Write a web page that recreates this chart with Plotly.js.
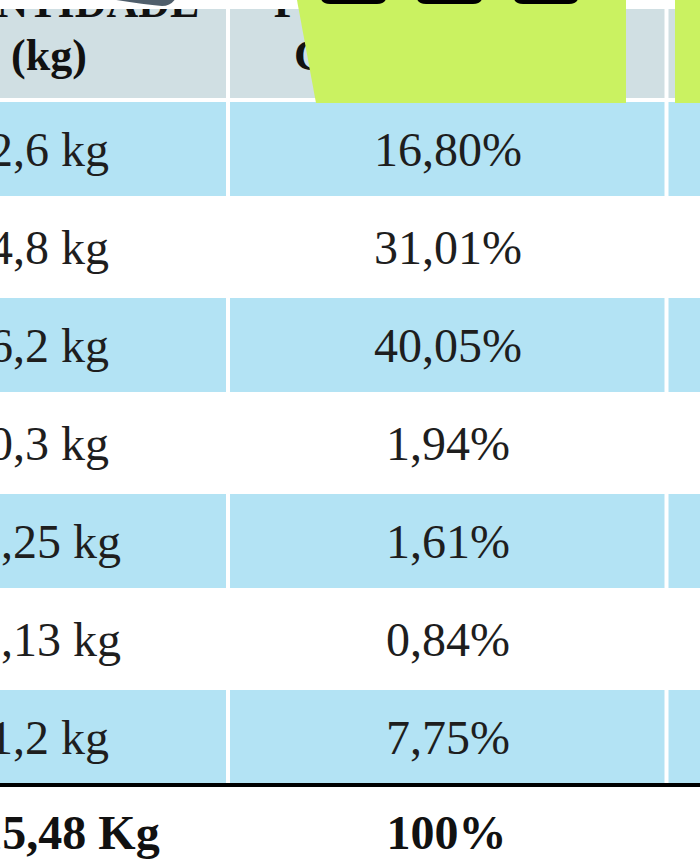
<!DOCTYPE html>
<html><head><meta charset="utf-8">
<script src="https://cdn.plot.ly/plotly-3.0.1.min.js"></script>
<style>html,body{margin:0;padding:0;background:#fff;overflow:hidden}#chart{width:700px;height:863px}</style>
</head><body><div id="chart"></div>
<script>
// ---- data ----
const quantities = ['2,6 kg','4,8 kg','6,2 kg','0,3 kg','0,25 kg','0,13 kg','1,2 kg'];
const percentages = ['16,80%','31,01%','40,05%','1,94%','1,61%','0,84%','7,75%'];
const totalQuantity = '15,48 Kg';
const totalPercentage = '100%';
const headerQuantity = ['QUANTIDADE','(kg)'];
const headerPercentage = ['PORCENTAGEM','COMPOSIÇÃO'];

// ---- layout helpers ----
const W = 700, H = 863;
const ROW = 98, TOP = 100;
const rowY = p => (p - TOP) / ROW;
const colEdges = [-250, 228, 666.5, 950];
const colCenters = [49, 448];
const BLUE = '#b3e3f4', GRAY = '#d0dfe3', LIME = '#caf261';
const SERIF = 'Liberation Serif, Times New Roman, serif';
const PX = x => x / W, PY = y => 1 - y / H;
const pathPx = pts => 'M ' + pts.map(p => PX(p[0]) + ',' + PY(p[1])).join(' L ') + ' Z';

const shapes = [];
// header cells
for (let c = 0; c < 3; c++) {
  shapes.push({type:'rect', layer:'below', xref:'x', yref:'y',
    x0: colEdges[c] + 2, x1: colEdges[c+1] - 2, y0: rowY(9), y1: rowY(98),
    fillcolor: GRAY, line:{width:0}});
}
// body cells
quantities.forEach((_, i) => {
  if (i % 2 !== 0) return;
  for (let c = 0; c < 3; c++) {
    shapes.push({type:'rect', layer:'below', xref:'x', yref:'y',
      x0: colEdges[c] + 2, x1: colEdges[c+1] - 2, y0: i + 2/ROW, y1: i + 1 - 2/ROW,
      fillcolor: BLUE, line:{width:0}});
  }
});
// total separator line
shapes.push({type:'line', layer:'above', xref:'paper', yref:'y', x0:0, x1:1,
  y0: quantities.length - 1/ROW, y1: quantities.length - 1/ROW, line:{color:'#000', width:4}});
// decorations on top
shapes.push({type:'rect', layer:'above', xref:'paper', yref:'paper', x0:0, x1:1, y0:PY(9), y1:PY(-5),
  fillcolor:'#ffffff', line:{width:0}});
shapes.push({type:'path', layer:'above', xref:'paper', yref:'paper',
  path: pathPx([[295.5,-8],[316,103],[626,103],[626,-8]]), fillcolor: LIME, line:{width:0}});
shapes.push({type:'path', layer:'above', xref:'paper', yref:'paper',
  path: pathPx([[675,-8],[675,103],[710,103],[710,-8]]), fillcolor: LIME, line:{width:0}});
[[320,387],[416,483],[513,579]].forEach(([a,b]) => {
  const r = 10, yb = 4, yt = -30;
  const p = `M ${PX(a)},${PY(yt)} L ${PX(a)},${PY(yb-r)} Q ${PX(a)},${PY(yb)} ${PX(a+r)},${PY(yb)} L ${PX(b-r)},${PY(yb)} Q ${PX(b)},${PY(yb)} ${PX(b)},${PY(yb-r)} L ${PX(b)},${PY(yt)} Z`;
  shapes.push({type:'path', layer:'above', xref:'paper', yref:'paper', path:p, fillcolor:'#000', line:{width:0}});
});
shapes.push({type:'path', layer:'above', xref:'paper', yref:'paper',
  path: `M ${PX(104)},${PY(-2)} Q ${PX(140)},${PY(4)} ${PX(162)},${PY(6)} Q ${PX(171)},${PY(6)} ${PX(176)},${PY(-2)} Z`,
  fillcolor:'#4f5e6b', line:{width:0}});

const txtColor = '#1e1e1e';
const traces = [
  {type:'scatter', mode:'text', x: quantities.map(() => colCenters[0]), y: quantities.map((_, i) => i + 0.556),
   text: quantities, textposition:'middle center', textfont:{family:SERIF, size:48, color:txtColor}, hoverinfo:'skip'},
  {type:'scatter', mode:'text', x: percentages.map(() => colCenters[1]), y: percentages.map((_, i) => i + 0.556),
   text: percentages, textposition:'middle center', textfont:{family:SERIF, size:48, color:txtColor}, hoverinfo:'skip'},
  {type:'scatter', mode:'text', x: [69, 446.5], y: [quantities.length + 0.525, quantities.length + 0.525],
   text: [totalQuantity, totalPercentage], textposition:'middle center',
   textfont:{family:SERIF, size:48, color:'#111', weight:'bold'}, hoverinfo:'skip'},
  {type:'scatter', mode:'text',
   x: [colCenters[0], colCenters[0], colCenters[1], colCenters[1]],
   y: [rowY(6), rowY(59), rowY(6), rowY(59)],
   text: [headerQuantity[0], headerQuantity[1], headerPercentage[0], headerPercentage[1]],
   textposition:'middle center', textfont:{family:SERIF, size:44, color:'#111', weight:'bold'}, hoverinfo:'skip'}
];

const layout = {
  width: W, height: H, margin:{l:0, r:0, t:0, b:0},
  paper_bgcolor:'#ffffff', plot_bgcolor:'#ffffff', showlegend:false,
  xaxis:{range:[0, W], visible:false, fixedrange:true},
  yaxis:{range:[rowY(H), rowY(0)], visible:false, fixedrange:true},
  shapes: shapes, hovermode:false
};
Plotly.newPlot('chart', traces, layout, {displayModeBar:false, staticPlot:true});
</script></body></html>
